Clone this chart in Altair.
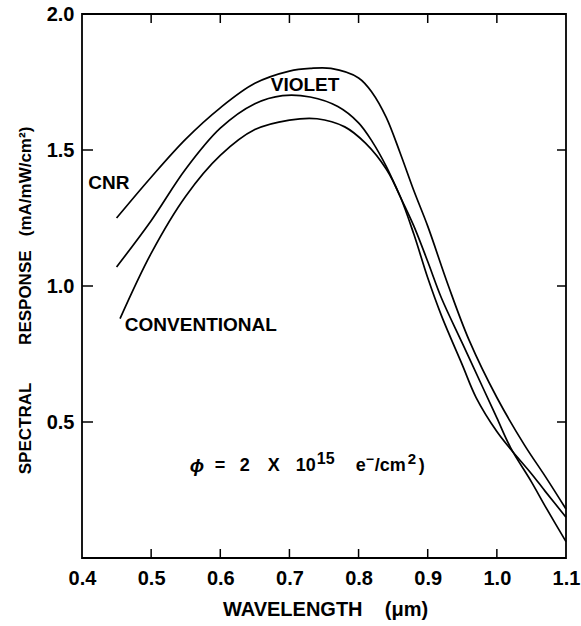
import altair as alt
import pandas as pd

# ---- data ----
wl_cnr = [0.45, 0.50, 0.55, 0.60, 0.65, 0.70, 0.73, 0.76, 0.80, 0.82, 0.84, 0.86, 0.88, 0.90, 0.93, 0.96, 1.00, 1.04, 1.07, 1.10]
sr_cnr = [1.25, 1.40, 1.54, 1.655, 1.745, 1.79, 1.80, 1.80, 1.765, 1.71, 1.62, 1.49, 1.35, 1.22, 1.00, 0.80, 0.59, 0.415, 0.30, 0.18]

wl_violet = [0.45, 0.50, 0.55, 0.60, 0.65, 0.69, 0.73, 0.77, 0.80, 0.82, 0.84, 0.86, 0.88, 0.90, 0.92, 0.95, 0.98, 1.00, 1.02, 1.05, 1.07, 1.10]
sr_violet = [1.07, 1.24, 1.43, 1.58, 1.67, 1.70, 1.695, 1.66, 1.60, 1.53, 1.44, 1.33, 1.22, 1.09, 0.955, 0.79, 0.625, 0.515, 0.405, 0.28, 0.19, 0.06]

wl_conv = [0.455, 0.50, 0.55, 0.60, 0.65, 0.70, 0.74, 0.78, 0.81, 0.84, 0.86, 0.88, 0.90, 0.92, 0.95, 0.97, 1.00, 1.02, 1.05, 1.07, 1.10]
sr_conv = [0.88, 1.12, 1.33, 1.48, 1.575, 1.61, 1.615, 1.585, 1.525, 1.43, 1.33, 1.19, 1.03, 0.89, 0.71, 0.59, 0.465, 0.40, 0.31, 0.245, 0.15]

x_tick_values = [0.4, 0.5, 0.6, 0.7, 0.8, 0.9, 1.0, 1.1]
y_tick_values = [0.5, 1.0, 1.5, 2.0]
inner_x_ticks = [0.5, 0.6, 0.7, 0.8, 0.9, 1.0]
inner_y_ticks = [0.5, 1.0, 1.5]

label_text = ["VIOLET", "CNR", "CONVENTIONAL"]
label_x = [0.673, 0.409, 0.462]
label_y = [1.739, 1.38, 0.857]

# annotation "phi = 2 X 10^15 e-/cm^2)"
note_x = 0.556
note_y = 0.338
note_parts = ["ϕ", "=", "2", "X", "10", "15", "e", "−", "/cm", "2", ")"]
note_dx = [0, 25, 50, 78, 106, 127, 166, 176, 185, 218, 229]
note_dy = [0, 0, 0, 0, 0, -7, 0, -6, 0, -7, 0]
note_size = [19, 18, 18, 18, 18, 16, 18, 14, 18, 15, 18]
note_style = ["italic", "normal", "normal", "normal", "normal", "normal", "normal", "normal", "normal", "normal", "normal"]

# ---- build chart ----
curves = pd.DataFrame({
    "wl": wl_cnr + wl_violet + wl_conv,
    "sr": sr_cnr + sr_violet + sr_conv,
    "series": ["CNR"] * len(wl_cnr) + ["VIOLET"] * len(wl_violet) + ["CONVENTIONAL"] * len(wl_conv),
})

W, H = 484, 544
FONT = "Liberation Sans"
NB = "\u00a0"

xs = alt.Scale(domain=[0.4, 1.1], nice=False, zero=False)
ys = alt.Scale(domain=[0, 2.0], nice=False, zero=False)

x_axis = alt.Axis(
    values=x_tick_values, format=".1f", labelFont=FONT, labelFontSize=20,
    labelFontWeight="bold", labelColor="black", labelPadding=10, labelFlush=False,
    tickSize=0, domain=False, grid=False,
    title="WAVELENGTH" + NB * 4 + "(μm)", titleFont=FONT, titleFontSize=20,
    titleFontWeight="bold", titleColor="black", titleX=W / 2 + 1, titleY=51,
    titleAlign="center", titleBaseline="middle",
)
y_axis = alt.Axis(
    values=y_tick_values, format=".1f", labelFont=FONT, labelFontSize=20,
    labelFontWeight="bold", labelColor="black", labelPadding=8,
    tickSize=0, domain=False, grid=False,
    title="SPECTRAL" + NB * 8 + "RESPONSE" + NB * 3 + "(mA/mW/cm²)",
    titleFont=FONT, titleFontSize=17, titleFontWeight="bold", titleColor="black",
    titleAngle=270, titleX=-57, titleY=286, titleAlign="center", titleBaseline="middle",
)

X = alt.X("wl:Q", scale=xs, axis=x_axis)
Y = alt.Y("sr:Q", scale=ys, axis=y_axis)

lines = alt.Chart(curves).mark_line(
    color="black", strokeWidth=1.7, interpolate="catmull-rom"
).encode(x=X, y=Y, detail="series:N")

xt = pd.DataFrame({"wl": inner_x_ticks})
yt = pd.DataFrame({"sr": inner_y_ticks})
rule_kw = dict(color="black", strokeWidth=1.5)
bottom_ticks = alt.Chart(xt).mark_rule(**rule_kw).encode(
    x=X, y=alt.value(H), y2=alt.value(H - 9))
top_ticks = alt.Chart(xt).mark_rule(**rule_kw).encode(
    x=X, y=alt.value(0), y2=alt.value(9))
left_ticks = alt.Chart(yt).mark_rule(**rule_kw).encode(
    y=Y, x=alt.value(0), x2=alt.value(11))
right_ticks = alt.Chart(yt).mark_rule(**rule_kw).encode(
    y=Y, x=alt.value(W - 9), x2=alt.value(W))

labels_df = pd.DataFrame({"wl": label_x, "sr": label_y, "txt": label_text})
labels = alt.Chart(labels_df).mark_text(
    font=FONT, fontSize=19, fontWeight="bold", color="black", align="left", baseline="middle"
).encode(x=X, y=Y, text="txt:N")

note_layers = []
for t, dx, dy, fs, st in zip(note_parts, note_dx, note_dy, note_size, note_style):
    d = pd.DataFrame({"wl": [note_x], "sr": [note_y], "txt": [t]})
    note_layers.append(
        alt.Chart(d).mark_text(
            font=FONT, fontSize=fs, fontWeight="bold", fontStyle=st, color="black",
            align="left", baseline="middle", dx=dx, dy=dy,
        ).encode(x=X, y=Y, text="txt:N")
    )

chart = alt.layer(
    lines, bottom_ticks, top_ticks, left_ticks, right_ticks, labels, *note_layers
).properties(
    width=W, height=H,
    padding={"left": 82, "top": 14, "right": 15, "bottom": 68},
    autosize=alt.AutoSizeParams(type="none"),
    background="white",
).configure_view(stroke="black", strokeWidth=1.8)

chart.save("out.html", embed_options={"renderer": "svg", "actions": False})
